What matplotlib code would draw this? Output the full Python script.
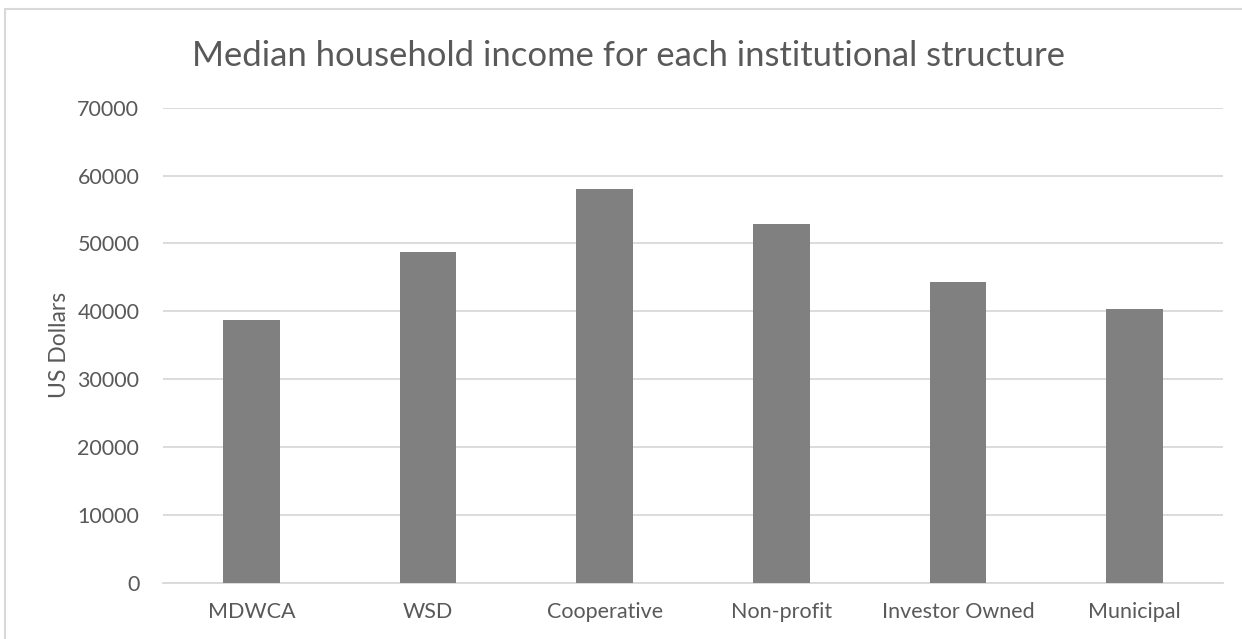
import matplotlib
matplotlib.use("Agg")
import matplotlib.pyplot as plt
from matplotlib.patches import Rectangle

# data
categories = ['MDWCA', 'WSD', 'Cooperative', 'Non-profit', 'Investor Owned', 'Municipal']
income = [38700, 48700, 58000, 52850, 44400, 40350]
y_ticks = [0, 10000, 20000, 30000, 40000, 50000, 60000, 70000]

text_color = '#595959'
grid_color = '#d9d9d9'
bar_color = '#808080'

plt.rcParams['font.family'] = ['Lato', 'DejaVu Sans']

fig = plt.figure(figsize=(12.42, 6.39), dpi=100)
ax = fig.add_axes([0.1312, 0.0876, 0.8535, 0.7439])

x = range(len(categories))
ax.bar(x, income, width=0.32, color=bar_color, zorder=3)

ax.set_xlim(-0.5, len(categories) - 0.5)
ax.set_ylim(0, 70000)
ax.set_yticks(y_ticks)
ax.set_yticklabels([str(v) for v in y_ticks])
ax.set_xticks(list(x))
ax.set_xticklabels(categories)

# 网格线 和 坐标轴
ax.yaxis.grid(True, color=grid_color, linewidth=1.3, zorder=0)
for side in ['top', 'right', 'left']:
    ax.spines[side].set_visible(False)
ax.spines['bottom'].set_color(grid_color)
ax.spines['bottom'].set_linewidth(1.3)
ax.tick_params(axis='both', length=0, labelsize=15.5, labelcolor=text_color)
ax.tick_params(axis='x', pad=14)
ax.tick_params(axis='y', pad=17)

ax.set_ylabel('US Dollars', fontsize=16.5, color=text_color, labelpad=5)
fig.text(0.5064, 1 - 66 / 639, 'Median household income for each institutional structure',
         ha='center', va='baseline', fontsize=24.9, color=text_color)

# outer chart border
fig.patches.append(Rectangle((5 / 1242, -0.1), 1.2, 1.1 - 9 / 639, transform=fig.transFigure,
                             fill=False, edgecolor=grid_color, linewidth=1.5))

fig.savefig('out.png', dpi=100)
